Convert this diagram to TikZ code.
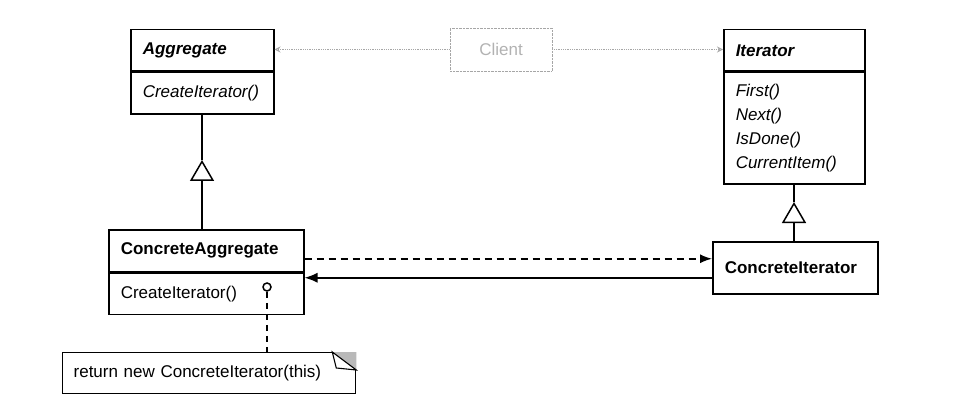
\documentclass[tikz,border=0pt]{standalone}
\usepackage{fontspec}
\setmainfont{Liberation Sans}
\usetikzlibrary{arrows.meta, positioning}

\begin{document}
\begin{tikzpicture}[x=1pt, y=-1pt,
    font=\fontsize{17}{24}\selectfont,
    classbox/.style={draw, line width=1.5pt, anchor=north west, align=left, inner xsep=12pt, inner ysep=0pt},
    link/.style={line width=1.5pt},
    generalize/.style={line width=1.5pt, -{Triangle[open, length=21pt, width=24pt]}},
    usage/.style={line width=1.5pt, dash pattern=on 7pt off 5pt, -{Latex[length=12pt, width=9pt]}},
    holds/.style={line width=1.5pt, -{Latex[length=13pt, width=10pt]}},
    clientlink/.style={gray!70, densely dotted, line width=0.8pt, -{Stealth[open, length=6pt, width=6pt]}}
]
\useasboundingbox (0,0) rectangle (974,406);

% Abstract classes
\node[classbox, text width=119pt, minimum height=41pt] (aggregate) at (130,29) {\textbf{\textit{Aggregate}}};
\node[classbox, text width=119pt, minimum height=42pt] (aggregateops) at (aggregate.south west) {\textit{CreateIterator()}};

\node[classbox, text width=117pt, minimum height=41pt] (iterator) at (723,29) {\textbf{\textit{Iterator}}};
\node[classbox, text width=117pt, minimum height=112pt] (iteratorops) at (iterator.south west) {\textit{First()}\\\textit{Next()}\\\textit{IsDone()}\\\textit{CurrentItem()}};

% Client
\node[draw=gray!70, densely dotted, text=gray!60, minimum width=102pt, minimum height=43pt] (client) at (501,49.5) {Client};

% Concrete classes
\node[classbox, text width=171pt, minimum height=42pt] (concaggregate) at (108,229) {\textbf{ConcreteAggregate}};
\node[classbox, text width=171pt, minimum height=41pt] (concaggregateops) at (concaggregate.south west) {CreateIterator()};

\node[classbox, text width=141pt, minimum height=52pt] (conciterator) at (712,241) {\textbf{ConcreteIterator}};

% Note
\node[circle, draw, line width=1.5pt, minimum size=8pt, inner sep=0pt] (pin) at (267,287) {};
\node[draw, line width=1.3pt, anchor=north west, text width=271pt, minimum height=41pt, inner xsep=11pt, align=left] (note) at (62,352) {return new ConcreteIterator(this)};
\fill[gray!55] ([xshift=-24pt]note.north east) -- (note.north east) -- ([yshift=-18pt]note.north east) -- cycle;
\draw[line width=1.1pt, fill=white] ([xshift=-24pt]note.north east) -- ([yshift=-18pt]note.north east) -- ([xshift=-20pt,yshift=-16pt]note.north east) -- cycle;

% Arrows
\draw[clientlink] (client.west) -- (client.west -| aggregate.east);
\draw[clientlink] (client.east) -- (client.east -| iterator.west);

\coordinate (aggtip) at (202,160);
\draw[link] (aggregateops.south -| aggtip) -- (aggtip);
\draw[generalize] (aggtip |- concaggregate.north) -- (aggtip);

\coordinate (ittip) at (794,202);
\draw[link] (iteratorops.south -| ittip) -- (ittip);
\draw[generalize] (ittip |- conciterator.north) -- (ittip);

\coordinate (depend) at ([yshift=9pt]conciterator.west);
\draw[usage] (concaggregate.east |- depend) -- (depend);
\coordinate (back) at ([yshift=-10pt]conciterator.west);
\draw[holds] (back) -- (back -| concaggregate.east);

\draw[link, dash pattern=on 6pt off 5pt] (pin.south) -- (pin.south |- note.north);

\end{tikzpicture}
\end{document}
